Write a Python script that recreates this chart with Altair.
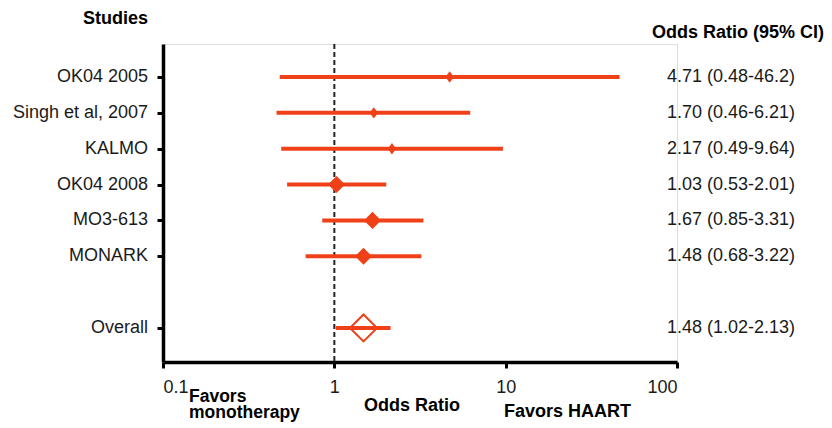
import altair as alt
import pandas as pd

studies = ["OK04 2005", "Singh et al, 2007", "KALMO", "OK04 2008", "MO3-613", "MONARK", "Overall"]
rows = [1, 2, 3, 4, 5, 6, 8]
odds = [4.71, 1.70, 2.17, 1.03, 1.67, 1.48, 1.48]
ci_low = [0.48, 0.46, 0.49, 0.53, 0.85, 0.68, 1.02]
ci_high = [46.2, 6.21, 9.64, 2.01, 3.31, 3.22, 2.13]
ci_text = ["4.71 (0.48-46.2)", "1.70 (0.46-6.21)", "2.17 (0.49-9.64)", "1.03 (0.53-2.01)",
           "1.67 (0.85-3.31)", "1.48 (0.68-3.22)", "1.48 (1.02-2.13)"]
kind = ["small", "small", "small", "large", "large", "large", "overall"]
x_ticks = [0.1, 1, 10, 100]

df = pd.DataFrame({"study": studies, "row": rows, "or": odds, "lo": ci_low,
                   "hi": ci_high, "txt": ci_text, "kind": kind})

RED = "#EF4018"
FONT = "Liberation Sans"
TXT = "#1a1a1a"

xscale = alt.Scale(type="log", domain=[0.1, 100])
yscale = alt.Scale(domain=[0.08, 8.95], reverse=True)

base = alt.Chart(df)

y_enc = alt.Y("row:Q", scale=yscale,
              axis=alt.Axis(values=rows, labels=False, title=None, grid=False,
                            tickSize=6, tickWidth=3, tickColor="black",
                            domainColor="black", domainWidth=3.5))
x_enc = alt.X("lo:Q", scale=xscale,
              axis=alt.Axis(values=x_ticks, format="~g", title=None, grid=False,
                            tickSize=6, tickWidth=3, tickColor="black",
                            domainColor="black", domainWidth=3.5,
                            labelFont=FONT, labelFontSize=18, labelColor=TXT,
                            labelPadding=10))

ref = alt.Chart(pd.DataFrame({"v": [1]})).mark_rule(
    color="#222", strokeDash=[5, 3], strokeWidth=2
).encode(x=alt.X("v:Q", scale=xscale))

ci = base.mark_rule(color=RED, strokeWidth=4).encode(x=x_enc, x2="hi:Q", y=y_enc)

small_path = "M-0.72,0L0,-1L0.72,0L0,1Z"
pts = base.transform_filter(alt.datum.kind != "overall").mark_point(
    filled=True, color=RED, opacity=1
).encode(
    x=alt.X("or:Q", scale=xscale),
    y=alt.Y("row:Q", scale=yscale),
    size=alt.Size("kind:N", scale=alt.Scale(domain=["small", "large"], range=[130, 290]), legend=None),
    shape=alt.Shape("kind:N", scale=alt.Scale(domain=["small", "large"], range=[small_path, "diamond"]), legend=None),
)

overall = base.transform_filter(alt.datum.kind == "overall").mark_point(
    filled=False, color=RED, shape="diamond", size=730, strokeWidth=2, opacity=1
).encode(x=alt.X("or:Q", scale=xscale), y=alt.Y("row:Q", scale=yscale))

labels = base.mark_text(align="right", baseline="middle", font=FONT, fontSize=18, color=TXT).encode(
    x=alt.value(-15), y=alt.Y("row:Q", scale=yscale), text="study:N")

values = base.mark_text(align="left", baseline="middle", font=FONT, fontSize=18, color=TXT).encode(
    x=alt.value(504), y=alt.Y("row:Q", scale=yscale), text="txt:N")


def note(t, x, y, align="left", size=18):
    return alt.Chart(pd.DataFrame({"t": [t]})).mark_text(
        align=align, baseline="alphabetic", font=FONT, fontSize=size,
        fontWeight="bold", color="black", lineBreak="\n", lineHeight=16
    ).encode(x=alt.value(x), y=alt.value(y), text="t:N")


notes = [
    note("Studies", -15, -20, "right"),
    note("Odds Ratio (95% CI)", 489, -6),
    note("Favors\nmonotherapy", 26, 358, size=17.5),
    note("Odds Ratio", 201, 367),
    note("Favors HAART", 341, 373),
]

chart = alt.layer(ref, ci, pts, overall, labels, values, *notes).properties(
    width=514, height=318,
    autosize=alt.AutoSizeParams(type="none"),
    padding={"left": 155, "top": 36, "right": 147, "bottom": 60},
).configure_view(stroke=None).configure(background="white")

chart.save("out.html", embed_options={"renderer": "svg", "actions": False})
